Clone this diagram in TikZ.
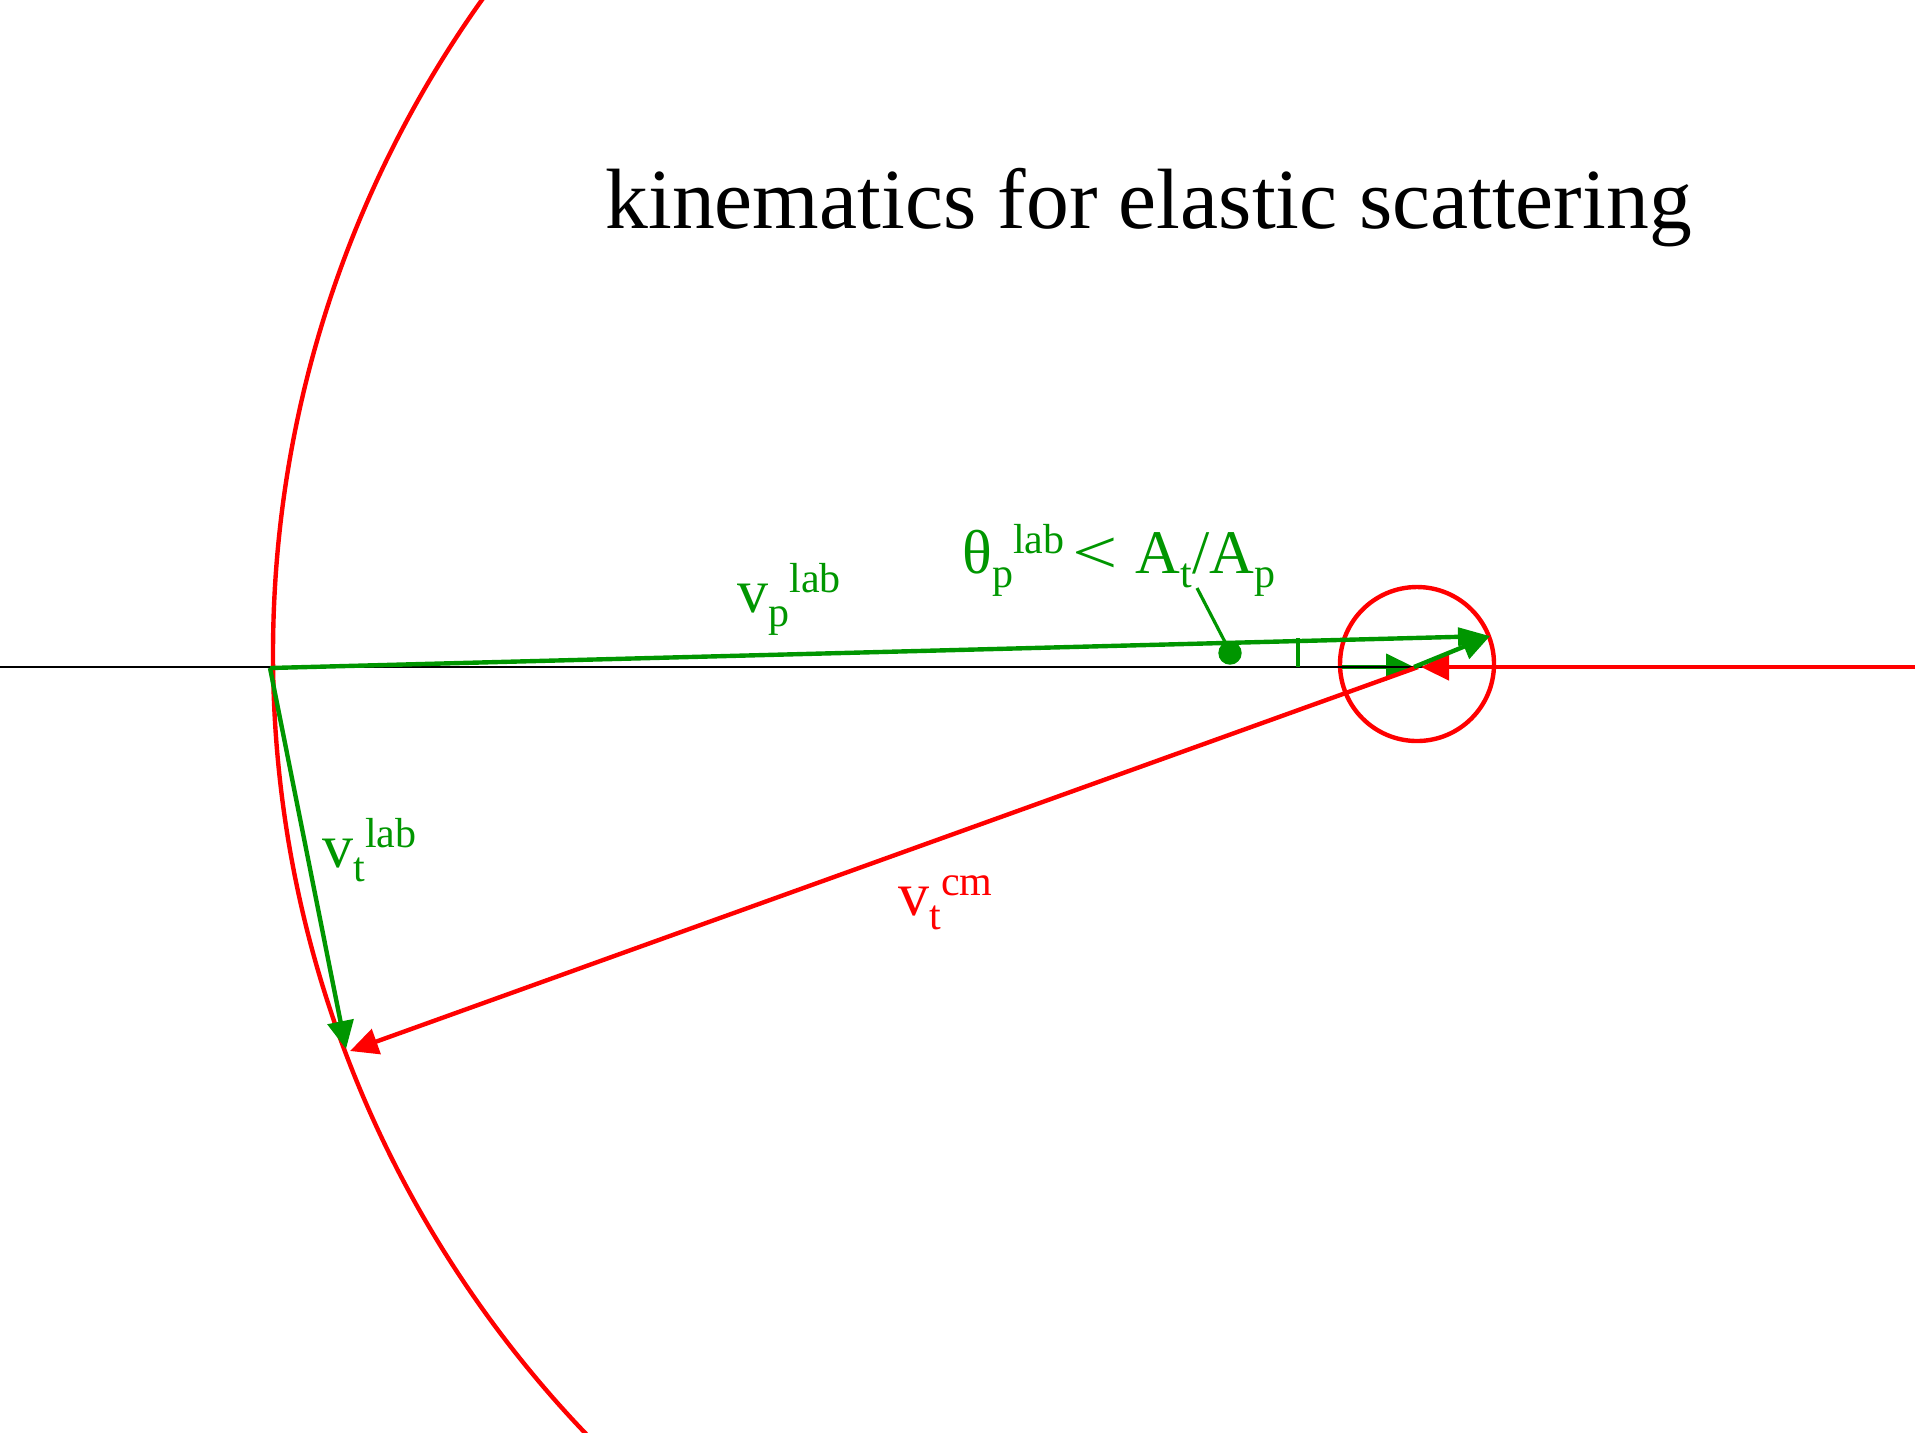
\documentclass[tikz,border=0pt]{standalone}
\usepackage{fontspec}
\setmainfont{Liberation Serif}
\usetikzlibrary{arrows.meta}
\definecolor{vgreen}{RGB}{0,150,0}
\definecolor{vred}{RGB}{255,0,0}
\newcommand\sbx[1]{\raisebox{-7pt}{\fontsize{21}{21}\selectfont #1}}
\newcommand\spx[1]{\raisebox{10pt}{\fontsize{21}{21}\selectfont #1}}
\begin{document}
\begin{tikzpicture}[x=0.5pt,y=-0.5pt,
  gline/.style={draw=vgreen, line width=2.2pt},
  rline/.style={draw=vred, line width=2.2pt},
  bighead/.style={-{Triangle[length=14pt,width=13pt]}},
  vphead/.style={-{Triangle[length=16pt,width=9pt]}},
  lbl/.style={anchor=base west, inner sep=0pt, font=\fontsize{31}{31}\selectfont},
  titlefont/.style={anchor=base west, inner sep=0pt, font=\fontsize{42.8}{44}\selectfont}]
\useasboundingbox (0,0) rectangle (1915,1432);
% key points
\coordinate (O) at (270,668);
\coordinate (C) at (1418,667);
\coordinate (Cg) at (1414,667);
\coordinate (Cr) at (1421,667);
\coordinate (L) at (1342,667);
\coordinate (Z) at (0,667);
\coordinate (R) at (1915,667);
\coordinate (P) at (1490,636);
\coordinate (Tg) at (346,1049);
\coordinate (Tr) at (350,1051);
\coordinate (BC) at (1401,654);
\coordinate (SC) at (1417,664);
\coordinate (tickA) at (1298,638);
\coordinate (tickB) at (1298,667);
\coordinate (ptrA) at (1197,588);
\coordinate (ptrB) at (1225,642);
\coordinate (dot) at (1230,653);
% circles
\draw[rline] (BC) circle[radius=1128];
\draw[rline] (SC) circle[radius=77];
% cm velocity of projectile (green, short)
\draw[gline, bighead] (L) -- (Cg);
% axis
\draw[line width=1pt, black] (Z) -- (R);
% red vectors
\draw[rline, bighead] (C) -- (Tr);
\draw[rline, bighead] (R) -- (Cr);
% green vectors
\draw[gline, vphead] (O) -- (P);
\draw[gline, bighead] (O) -- (Tg);
\draw[gline, bighead] (Cg) -- (P);
% angle marker and pointer
\draw[gline, line width=1.6pt] (tickA) -- (tickB);
\fill[vgreen] (dot) circle[radius=11.7];
\draw[gline, line width=1.6pt] (ptrA) -- (ptrB);
% labels
\node[titlefont] (title) at (605,228) {kinematics for elastic scattering};
\node[lbl, text=vgreen] (vplab) at (737,612) {v\sbx{p}\spx{lab}};
\node[lbl, text=vgreen] (vtlab) at (322,867) {v\sbx{t}\spx{lab}};
\node[lbl, text=vred] (vtcm) at (898,915) {v\sbx{t}\spx{cm}};
\node[lbl, text=vgreen] (theta) at (962,573) {θ\sbx{p}\spx{lab}\hspace{4pt}\scalebox{1.3}[1]{<}\hspace{9pt}A\sbx{t}/A\sbx{p}};
\end{tikzpicture}
\end{document}
